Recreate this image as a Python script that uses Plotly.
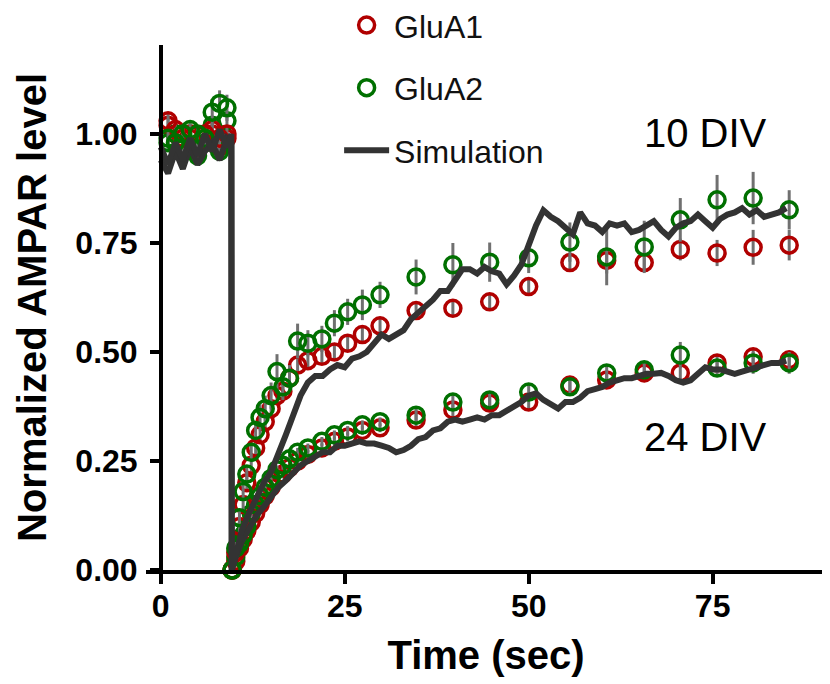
import plotly.graph_objects as go

# ---------------- data ----------------
t_data = [1.0, 2.0, 3.0, 4.0, 5.0, 6.0, 7.0, 8.0, 9.0,
          9.7, 10.2, 10.7, 11.2, 11.7, 12.3, 12.9, 13.5, 14.2, 15.0, 15.8, 16.6, 17.5,
          18.6, 20.0, 21.9, 23.6, 25.4, 27.4, 29.8,
          34.7, 39.7, 44.7, 50.0, 55.6, 60.6, 65.7, 70.6, 75.6, 80.5, 85.4]

glua1_10 = [1.03, 1.01, 0.99, 1.00, 0.97, 1.00, 1.01, 0.99, 1.00,
            0.00, 0.04, 0.10, 0.15, 0.20, 0.24, 0.28, 0.31, 0.34, 0.37, 0.40, 0.41, 0.44,
            0.47, 0.48, 0.49, 0.50, 0.52, 0.54, 0.56,
            0.595, 0.60, 0.615, 0.65, 0.705, 0.71, 0.705, 0.735, 0.727, 0.74, 0.745]
glua1_10_err = [0.02, 0.02, 0.02, 0.02, 0.02, 0.02, 0.02, 0.02, 0.02,
                0.01, 0.02, 0.02, 0.02, 0.02, 0.02, 0.02, 0.02, 0.02, 0.02, 0.02, 0.02, 0.02,
                0.02, 0.02, 0.02, 0.02, 0.02, 0.02, 0.02,
                0.02, 0.02, 0.02, 0.02, 0.02, 0.03, 0.02, 0.025, 0.03, 0.04, 0.035]

glua2_10 = [0.99, 0.98, 1.00, 1.01, 1.00, 0.99, 1.05, 1.07, 1.06,
            0.00, 0.05, 0.12, 0.18, 0.22, 0.27, 0.32, 0.35, 0.37, 0.40, 0.455, 0.42, 0.44,
            0.525, 0.52, 0.53, 0.566, 0.592, 0.608, 0.631,
            0.672, 0.70, 0.706, 0.716, 0.752, 0.718, 0.741, 0.803, 0.849, 0.853, 0.826]
glua2_10_err = [0.02, 0.02, 0.02, 0.02, 0.02, 0.02, 0.03, 0.03, 0.03,
                0.01, 0.02, 0.02, 0.02, 0.02, 0.02, 0.02, 0.03, 0.03, 0.03, 0.04, 0.03, 0.03,
                0.04, 0.03, 0.03, 0.03, 0.03, 0.035, 0.03,
                0.04, 0.05, 0.045, 0.035, 0.045, 0.065, 0.06, 0.05, 0.057, 0.06, 0.045]

glua1_24 = [1.02, 1.00, 0.98, 0.99, 0.96, 0.99, 1.00, 0.97, 0.99,
            0.00, 0.02, 0.05, 0.07, 0.09, 0.11, 0.13, 0.15, 0.17, 0.19, 0.21, 0.22, 0.235,
            0.25, 0.265, 0.28, 0.295, 0.305, 0.32, 0.326,
            0.344, 0.367, 0.383, 0.385, 0.424, 0.436, 0.452, 0.452, 0.475, 0.489, 0.482]
glua1_24_err = [0.02] * 9 + [0.01] * 20 + [0.02, 0.02, 0.02, 0.02, 0.02, 0.02, 0.02, 0.02, 0.02, 0.02, 0.02]

glua2_24 = [0.98, 1.00, 0.97, 1.00, 0.95, 0.98, 1.02, 0.96, 1.03,
            0.00, 0.03, 0.06, 0.08, 0.10, 0.13, 0.15, 0.17, 0.19, 0.21, 0.23, 0.24, 0.255,
            0.27, 0.28, 0.295, 0.31, 0.32, 0.333, 0.34,
            0.355, 0.385, 0.39, 0.408, 0.42, 0.452, 0.459, 0.493, 0.463, 0.475, 0.475]
glua2_24_err = [0.02] * 9 + [0.01] * 20 + [0.02, 0.02, 0.02, 0.02, 0.02, 0.02, 0.02, 0.03, 0.02, 0.025, 0.025]

t_sim = [0, 1, 2, 3, 4, 5, 6, 7, 8, 9, 9.6, 9.65,
         10, 10.5, 11, 12, 13, 14, 15, 16, 17, 18, 19, 20, 21, 22, 23, 24, 25, 26, 27, 28, 29,
         30, 31, 32, 33, 34, 35, 36, 37, 38, 39, 40, 41, 42, 43, 44, 45, 46, 47, 48, 49,
         50, 51, 52, 53, 54, 55, 56, 57, 58, 59, 60, 61, 62, 63, 64, 65, 66, 67, 68, 69,
         70, 71, 72, 73, 74, 75, 76, 77, 78, 79, 80, 81, 82, 83, 84, 85]

sim_10 = [0.97, 0.93, 0.98, 0.94, 0.99, 0.95, 1.00, 0.96, 1.01, 0.97, 1.00, 0.00,
          0.02, 0.06, 0.09, 0.13, 0.165, 0.20, 0.225, 0.265, 0.31, 0.355, 0.40, 0.43, 0.445, 0.445, 0.46, 0.47, 0.465, 0.485, 0.49, 0.50, 0.52,
          0.54, 0.53, 0.54, 0.55, 0.575, 0.59, 0.605, 0.62, 0.64, 0.64, 0.665, 0.69, 0.69, 0.68, 0.695, 0.685, 0.68, 0.655, 0.675, 0.70,
          0.745, 0.79, 0.825, 0.81, 0.80, 0.785, 0.77, 0.82, 0.795, 0.79, 0.775, 0.795, 0.79, 0.795, 0.775, 0.78, 0.79, 0.80, 0.78, 0.765,
          0.785, 0.795, 0.80, 0.815, 0.80, 0.785, 0.805, 0.815, 0.82, 0.83, 0.815, 0.825, 0.81, 0.815, 0.82, 0.83]

sim_24 = [0.94, 0.91, 0.96, 0.92, 0.97, 0.93, 0.96, 0.98, 0.94, 0.99, 0.98, 0.00,
          0.02, 0.045, 0.065, 0.095, 0.125, 0.145, 0.17, 0.19, 0.205, 0.225, 0.24, 0.25, 0.26, 0.27, 0.27, 0.285, 0.285, 0.29, 0.295, 0.29, 0.29,
          0.285, 0.28, 0.27, 0.275, 0.285, 0.30, 0.305, 0.32, 0.325, 0.34, 0.345, 0.34, 0.345, 0.35, 0.345, 0.355, 0.355, 0.365, 0.375, 0.385,
          0.40, 0.405, 0.39, 0.38, 0.37, 0.385, 0.385, 0.395, 0.41, 0.415, 0.42, 0.43, 0.435, 0.44, 0.44, 0.445, 0.45, 0.45, 0.452, 0.445,
          0.435, 0.43, 0.435, 0.45, 0.465, 0.46, 0.46, 0.455, 0.45, 0.455, 0.46, 0.465, 0.47, 0.475, 0.475, 0.48]

x_ticks = [0, 25, 50, 75]
y_ticks = [0.0, 0.25, 0.5, 0.75, 1.0]
y_ticklabels = ["0.00", "0.25", "0.50", "0.75", "1.00"]

RED = "#b00000"
GREEN = "#007000"
SIM = "#333333"
ERR = "#707070"
FONT = "Liberation Sans, Arial, sans-serif"

fig = go.Figure()


def add_data(y, err, color, name, show, rank):
    fig.add_trace(go.Scatter(
        x=t_data, y=y, mode="markers", name=name, showlegend=show,
        legendgroup=name if show else None, legendrank=rank,
        marker=dict(symbol="circle-open", size=16, color=color,
                    line=dict(width=3.5, color=color)),
        error_y=dict(type="data", array=err, color=ERR, thickness=3, width=0),
        cliponaxis=False,
    ))


add_data(glua1_24, glua1_24_err, RED, "GluA1", False, 1)
add_data(glua2_24, glua2_24_err, GREEN, "GluA2", False, 2)
add_data(glua1_10, glua1_10_err, RED, "GluA1", True, 1)
add_data(glua2_10, glua2_10_err, GREEN, "GluA2", True, 2)

fig.add_trace(go.Scatter(x=t_sim, y=sim_24, mode="lines", name="Simulation",
                         showlegend=False, line=dict(color=SIM, width=6), cliponaxis=False))
fig.add_trace(go.Scatter(x=t_sim, y=sim_10, mode="lines", name="Simulation",
                         showlegend=True, legendgroup="Simulation", legendrank=3,
                         line=dict(color=SIM, width=6), cliponaxis=False))

fig.add_annotation(x=74, y=1.002, text="10 DIV", showarrow=False,
                   font=dict(family=FONT, size=40, color="black"))
fig.add_annotation(x=74, y=0.305, text="24 DIV", showarrow=False,
                   font=dict(family=FONT, size=40, color="black"))

# page body has an 8px margin, so the figure is 8px smaller and margins shifted
fig.update_layout(
    width=822, height=676,
    margin=dict(l=138, r=4, t=37, b=114, autoexpand=False),
    paper_bgcolor="white", plot_bgcolor="white",
    font=dict(family=FONT, color="black"),
    legend=dict(x=0.284, y=1.09, xanchor="left", yanchor="top",
                font=dict(family=FONT, size=32, color="#111111"),
                traceorder="grouped", tracegroupgap=18, itemwidth=45,
                bgcolor="rgba(0,0,0,0)"),
    xaxis=dict(range=[-2, 90.4], tickvals=x_ticks, showgrid=False, zeroline=False,
               automargin=False,
               showline=True, linecolor="black", linewidth=4,
               ticks="outside", ticklen=10, tickwidth=3.5, tickcolor="black",
               ticklabelstandoff=-5,
               tickfont=dict(family=FONT, size=32, weight="bold"),
               title=dict(text="Time (sec)", font=dict(family=FONT, size=40, weight="bold"),
                          standoff=19)),
    yaxis=dict(range=[0, 1.204], tickvals=y_ticks, ticktext=y_ticklabels,
               showgrid=False, zeroline=False, anchor="free", position=0.0221,
               automargin=False,
               showline=True, linecolor="black", linewidth=4,
               ticks="outside", ticklen=9, tickwidth=3.5, tickcolor="black",
               ticklabelstandoff=6,
               tickfont=dict(family=FONT, size=32, weight="bold"),
               title=dict(text="Normalized AMPAR level",
                          font=dict(family=FONT, size=40, weight="bold"), standoff=15)),
)

fig.write_html("out.html")
